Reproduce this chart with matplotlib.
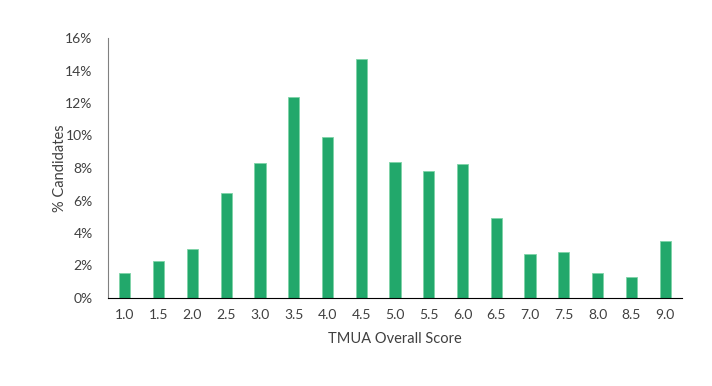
import matplotlib
matplotlib.use("Agg")
import matplotlib.pyplot as plt
from matplotlib.ticker import FuncFormatter

scores = ["1.0", "1.5", "2.0", "2.5", "3.0", "3.5", "4.0", "4.5", "5.0",
          "5.5", "6.0", "6.5", "7.0", "7.5", "8.0", "8.5", "9.0"]
pct = [1.54, 2.28, 3.02, 6.44, 8.29, 12.39, 9.91, 14.71, 8.35,
       7.84, 8.27, 4.92, 2.69, 2.81, 1.52, 1.31, 3.49]
yticks = [0, 2, 4, 6, 8, 10, 12, 14, 16]

plt.rcParams['font.family'] = ['Lato', 'DejaVu Sans']
txt = '#404040'

fig = plt.figure(figsize=(7.12, 3.86), dpi=100)
ax = fig.add_axes([108/712, 88/386, 574/712, 260/386])

x = list(range(len(scores)))
ax.bar(x, pct, width=0.33, color='#22A86B', edgecolor='#7FD3A8', linewidth=0.6)

ax.set_xlim(-0.5, len(scores) - 0.5)
ax.set_ylim(0, 16)
ax.set_yticks(yticks)
ax.yaxis.set_major_formatter(FuncFormatter(lambda v, p: '%d%%' % v))
ax.set_xticks(x)
ax.set_xticklabels(scores)
ax.tick_params(length=0, labelsize=10, colors=txt, pad=8)
ax.tick_params(axis='y', pad=11)

for s in ['top', 'right']:
    ax.spines[s].set_visible(False)
ax.spines['left'].set_color('#808080')
ax.spines['bottom'].set_color('#000000')

ax.set_xlabel('TMUA Overall Score', fontsize=10.5, color=txt, labelpad=8)
ax.set_ylabel('% Candidates', fontsize=10.5, color=txt, va='center')
ax.yaxis.set_label_coords(-0.084, 0.5)

fig.savefig('out.png', dpi=100)
